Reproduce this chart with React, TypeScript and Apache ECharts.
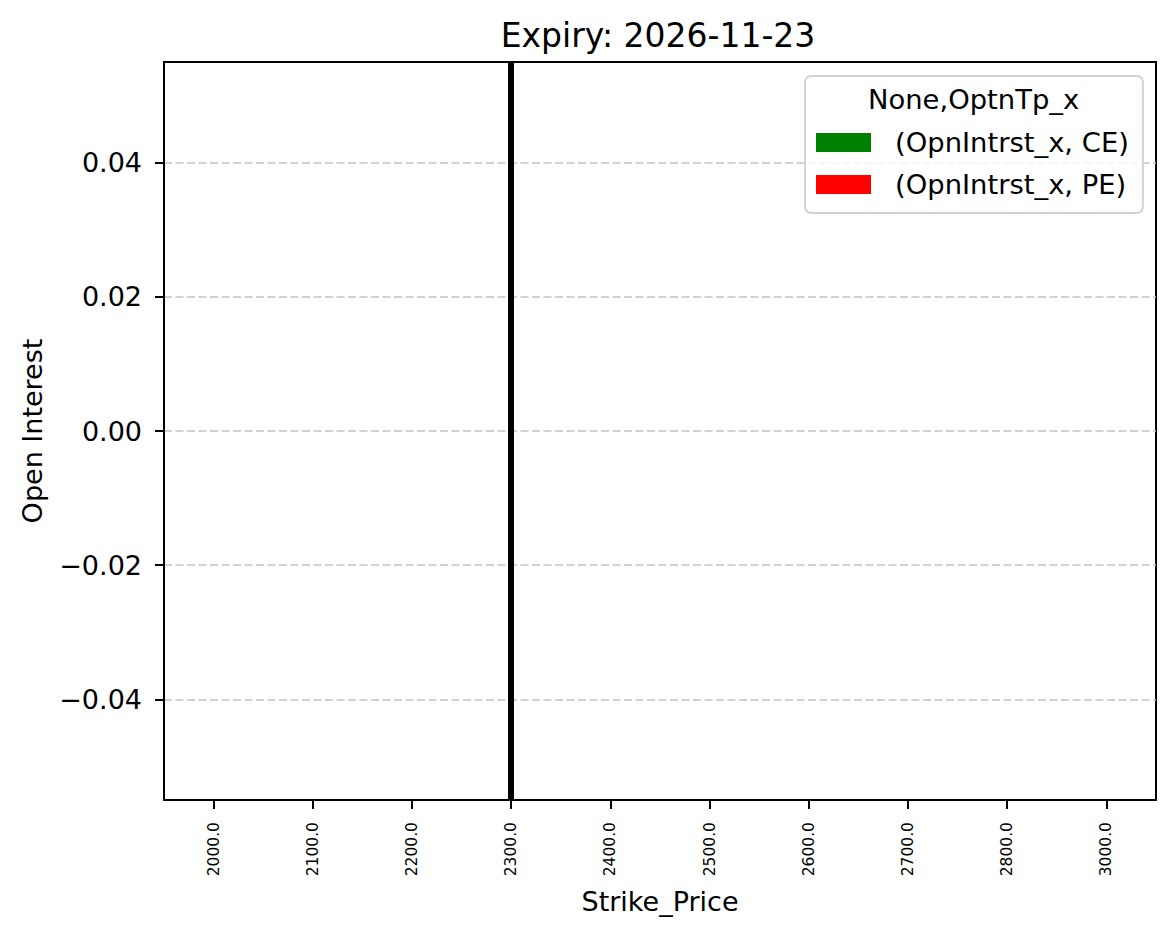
import React, { useEffect, useRef } from "react";
import * as echarts from "echarts";

const strikes = ["2000.0", "2100.0", "2200.0", "2300.0", "2400.0", "2500.0", "2600.0", "2700.0", "2800.0", "3000.0"];
const ceOpenInterest = [0, 0, 0, 0, 0, 0, 0, 0, 0, 0];
const peOpenInterest = [0, 0, 0, 0, 0, 0, 0, 0, 0, 0];
const spotStrike = "2300.0";
const yTicks = [-0.04, -0.02, 0, 0.02, 0.04];
const yMin = -0.055;
const yMax = 0.055;
const seriesNames = ["(OpnIntrst_x, CE)", "(OpnIntrst_x, PE)"];
const legendTitle = "None,OptnTp_x";
const chartTitle = "Expiry: 2026-11-23";

const FONT = "DejaVu Sans";

export default function App() {
  const ref = useRef<HTMLDivElement>(null);
  useEffect(() => {
    document.body.style.margin = "0";
    const chart = echarts.init(ref.current!, null, { renderer: "svg" });
    const fmt = (v: number) => (v < -1e-12 ? "\u2212" : "") + Math.abs(v).toFixed(2);
    chart.setOption({
      animation: false,
      backgroundColor: "#ffffff",
      textStyle: { fontFamily: FONT, color: "#000" },
      title: {
        text: chartTitle,
        left: 653,
        textAlign: "center",
        top: 14,
        textStyle: { fontFamily: FONT, fontSize: 33, fontWeight: "normal", color: "#000" },
      },
      grid: {
        left: 164,
        top: 62,
        right: 19,
        bottom: 139,
        show: true,
        borderColor: "#000",
        borderWidth: 2,
        backgroundColor: "transparent",
      },
      legend: {
        orient: "vertical",
        left: 805,
        top: 76,
        data: seriesNames,
        itemWidth: 55,
        itemHeight: 19,
        itemGap: 15,
        padding: [53, 14, 15, 11],
        backgroundColor: "rgba(255,255,255,0.8)",
        borderColor: "#d3d3d3",
        borderWidth: 2,
        borderRadius: 6,
        icon: "rect",
        selectedMode: false,
        textStyle: { fontFamily: FONT, fontSize: 27.4, color: "#000", padding: [0, 0, 0, 19], lineHeight: 19 },
      },
      graphic: [
        {
          type: "text",
          left: 868,
          top: 86,
          z: 100,
          style: {
            text: legendTitle,
            fontFamily: FONT,
            fontSize: 27.4,
            fill: "#000",
          },
        },
      ],
      xAxis: {
        type: "category",
        data: strikes,
        boundaryGap: true,
        name: "Strike_Price",
        nameLocation: "middle",
        nameGap: 88,
        nameTextStyle: { fontFamily: FONT, fontSize: 27, color: "#000" },
        axisLine: { show: true, onZero: false, lineStyle: { color: "#000", width: 2 } },
        axisTick: { show: true, alignWithLabel: true, length: 9, lineStyle: { color: "#000", width: 2 } },
        axisLabel: { rotate: 90, fontFamily: FONT, fontSize: 15.5, color: "#000", margin: 22, interval: 0 },
        splitLine: { show: false },
      },
      yAxis: {
        type: "value",
        min: yMin,
        max: yMax,
        name: "Open Interest",
        nameLocation: "middle",
        nameGap: 118,
        nameTextStyle: { fontFamily: FONT, fontSize: 27, color: "#000" },
        axisLine: { show: true, lineStyle: { color: "#000", width: 2 } },
        axisTick: { show: true, length: 9, customValues: yTicks, lineStyle: { color: "#000", width: 2 } },
        axisLabel: { customValues: yTicks, formatter: fmt, fontFamily: FONT, fontSize: 27, color: "#000", margin: 22 },
        splitLine: { show: true, lineStyle: { color: "#c4c4c4", width: 1.6, type: [8, 3.5] } },
      },
      series: [
        {
          name: seriesNames[0],
          type: "bar",
          data: ceOpenInterest,
          itemStyle: { color: "#008000" },
          barGap: "0%",
        },
        {
          name: seriesNames[1],
          type: "bar",
          data: peOpenInterest,
          itemStyle: { color: "#ff0000" },
        },
        {
          name: "spot",
          type: "line",
          data: [],
          showSymbol: false,
          silent: true,
          markLine: {
            silent: true,
            symbol: ["none", "none"],
            label: { show: false },
            lineStyle: { color: "#000", width: 6, type: "solid" },
            data: [{ xAxis: spotStrike }],
          },
        },
      ],
    });
    return () => chart.dispose();
  }, []);
  return <div ref={ref} style={{ width: 1175, height: 939 }} />;
}
